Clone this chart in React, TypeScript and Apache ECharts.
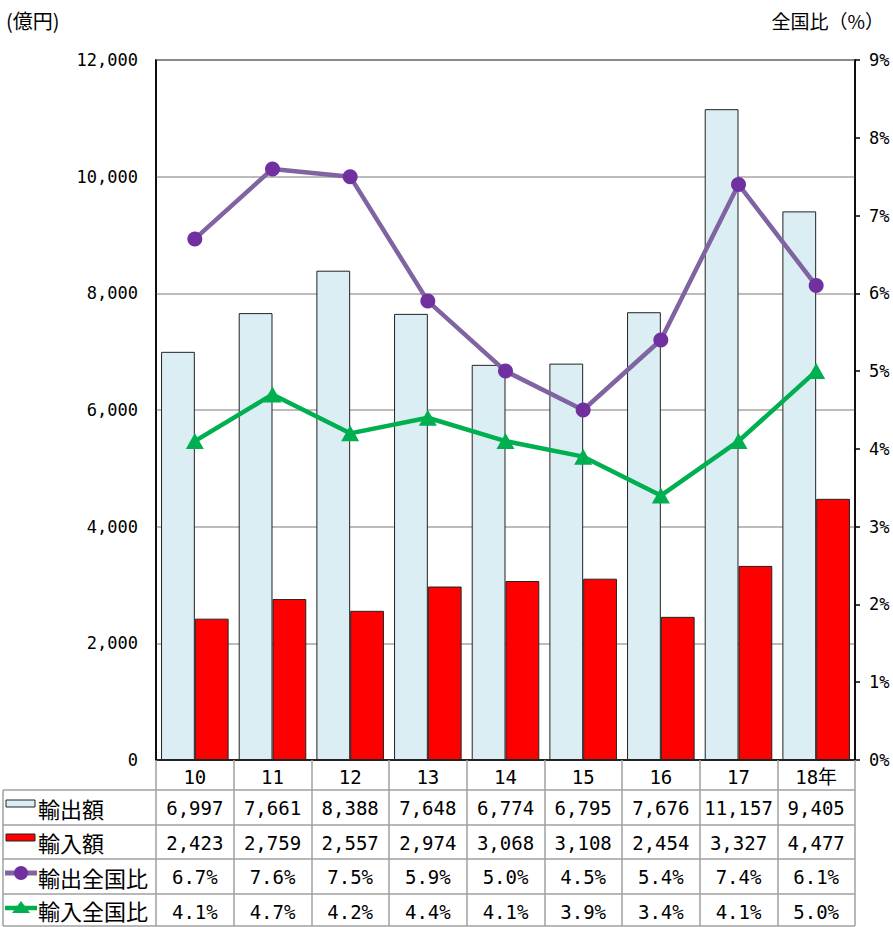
import React, { useEffect, useRef } from "react";
import * as echarts from "echarts";

const years = ["10", "11", "12", "13", "14", "15", "16", "17", "18年"];
const exportAmt = [6997, 7661, 8388, 7648, 6774, 6795, 7676, 11157, 9405];
const importAmt = [2423, 2759, 2557, 2974, 3068, 3108, 2454, 3327, 4477];
const exportShare = [6.7, 7.6, 7.5, 5.9, 5.0, 4.5, 5.4, 7.4, 6.1];
const importShare = [4.1, 4.7, 4.2, 4.4, 4.1, 3.9, 3.4, 4.1, 5.0];
const rowNames = ["輸出額", "輸入額", "輸出全国比", "輸入全国比"];
const leftAxis = { min: 0, max: 12000, interval: 2000 };
const rightAxis = { min: 0, max: 9, interval: 1 };

const NUM_FONT = "'DejaVu Sans Mono', 'Noto Sans CJK JP', monospace";
const JP_FONT = "'Noto Sans CJK JP', sans-serif";

const fmtNum = (v: number) => v.toLocaleString("en-US");
const fmtPct = (v: number) => v.toFixed(1) + "%";

export default function App() {
  const ref = useRef<HTMLDivElement>(null);
  useEffect(() => {
    if (!ref.current) return;
    const chart = echarts.init(ref.current, null, { renderer: "svg" });

    const rows = [
      exportAmt.map(fmtNum),
      importAmt.map(fmtNum),
      exportShare.map(fmtPct),
      importShare.map(fmtPct),
    ];
    const rowTops = [790, 825, 859, 894];
    const rowBottom = 926;
    const gridTop = 60;
    const gridBottom = 760;
    const gridLeft = 156;
    const gridRight = 855;
    const lineGrey = "#A0A0A0";

    const tableLines: any[] = [];
    [...rowTops, rowBottom].forEach((y) => {
      tableLines.push({
        type: "line",
        shape: { x1: 3, y1: y, x2: gridRight, y2: y },
        style: { stroke: lineGrey, lineWidth: 1.5 },
      });
    });
    tableLines.push({
      type: "line",
      shape: { x1: 3, y1: rowTops[0], x2: 3, y2: rowBottom },
      style: { stroke: lineGrey, lineWidth: 1.5 },
    });

    const headers = rowNames.map((name, i) => ({
      type: "text",
      x: 38,
      y: (rowTops[i] + (rowTops[i + 1] ?? rowBottom)) / 2,
      style: {
        text: name,
        fontSize: 22,
        fontFamily: JP_FONT,
        fill: "#000",
        verticalAlign: "middle",
        align: "left",
      },
    }));

    const swatches: any[] = [
      {
        type: "rect",
        shape: { x: 6, y: 800, width: 29, height: 7 },
        style: { fill: "#DAEEF3", stroke: "#222", lineWidth: 1 },
      },
      {
        type: "rect",
        shape: { x: 6, y: 834, width: 29, height: 7 },
        style: { fill: "#FF0000", stroke: "#222", lineWidth: 1 },
      },
      {
        type: "line",
        shape: { x1: 5, y1: 873, x2: 37, y2: 873 },
        style: { stroke: "#8064A2", lineWidth: 5 },
      },
      {
        type: "circle",
        shape: { cx: 21, cy: 873, r: 7 },
        style: { fill: "#7030A0" },
      },
      {
        type: "line",
        shape: { x1: 5, y1: 908, x2: 37, y2: 908 },
        style: { stroke: "#00B050", lineWidth: 4.5 },
      },
      {
        type: "polygon",
        shape: { points: [[21, 901], [12, 913], [30, 913]] },
        style: { fill: "#00B050" },
      },
    ];

    const titles = [
      {
        type: "text",
        x: 6,
        y: 20,
        style: {
          text: "(億円)",
          fontSize: 20,
          fontFamily: JP_FONT,
          fill: "#000",
          verticalAlign: "middle",
        },
      },
      {
        type: "text",
        x: 884,
        y: 20,
        style: {
          text: "全国比（%）",
          fontSize: 19,
          fontFamily: JP_FONT,
          fill: "#000",
          verticalAlign: "middle",
          align: "right",
        },
      },
    ];

    const offsets = rowTops.map((t) => t - gridBottom);

    chart.setOption({
      animation: false,
      grid: {
        left: gridLeft,
        right: 893 - gridRight,
        top: gridTop,
        bottom: 927 - gridBottom,
        show: true,
        borderColor: "#000",
        borderWidth: 1.5,
        backgroundColor: "transparent",
      },
      xAxis: [
        {
          type: "category",
          data: years,
          position: "bottom",
          axisLine: { show: true, lineStyle: { color: "#000", width: 1.5 } },
          axisTick: {
            show: true,
            interval: 0,
            length: rowBottom - gridBottom,
            lineStyle: { color: lineGrey, width: 1.5 },
          },
          axisLabel: {
            interval: 0,
            margin: 7,
            fontSize: 19,
            color: "#000",
            fontFamily: NUM_FONT,
          },
        },
        ...rows.map((r, i) => ({
          type: "category",
          data: r,
          position: "bottom",
          offset: offsets[i],
          axisLine: { show: false },
          axisTick: { show: false },
          axisLabel: {
            interval: 0,
            margin: 8,
            fontSize: 19,
            color: "#000",
            fontFamily: NUM_FONT,
          },
        })),
      ],
      yAxis: [
        {
          type: "value",
          min: leftAxis.min,
          max: leftAxis.max,
          interval: leftAxis.interval,
          axisLine: { show: true, lineStyle: { color: "#000", width: 1.5 } },
          axisTick: { show: false },
          axisLabel: {
            margin: 18,
            fontSize: 17,
            color: "#000",
            fontFamily: NUM_FONT,
            formatter: (v: number) => fmtNum(v),
          },
          splitLine: { show: true, lineStyle: { color: "#A6A6A6", width: 1.5 } },
        },
        {
          type: "value",
          min: rightAxis.min,
          max: rightAxis.max,
          interval: rightAxis.interval,
          position: "right",
          axisLine: { show: true, lineStyle: { color: "#000", width: 1.5 } },
          axisTick: { show: true, length: 5, lineStyle: { color: "#000", width: 1.5 } },
          axisLabel: {
            margin: 14,
            fontSize: 17,
            color: "#000",
            fontFamily: NUM_FONT,
            formatter: "{value}%",
          },
          splitLine: { show: false },
        },
      ],
      series: [
        {
          name: "輸出額",
          type: "bar",
          data: exportAmt,
          barGap: "0%",
          barCategoryGap: "13%",
          itemStyle: { color: "#DAEEF3", borderColor: "#222", borderWidth: 1 },
        },
        {
          name: "輸入額",
          type: "bar",
          data: importAmt,
          itemStyle: { color: "#FF0000", borderColor: "#222", borderWidth: 1 },
        },
        {
          name: "輸出全国比",
          type: "line",
          yAxisIndex: 1,
          data: exportShare,
          symbol: "circle",
          symbolSize: 15,
          lineStyle: { color: "#8064A2", width: 4.5 },
          itemStyle: { color: "#7030A0" },
          z: 5,
        },
        {
          name: "輸入全国比",
          type: "line",
          yAxisIndex: 1,
          data: importShare,
          symbol: "triangle",
          symbolSize: [18, 16],
          lineStyle: { color: "#00B050", width: 4.5 },
          itemStyle: { color: "#00B050" },
          z: 6,
        },
      ],
      graphic: [...tableLines, ...headers, ...swatches, ...titles],
    });

    return () => chart.dispose();
  }, []);

  return (
    <div
      ref={ref}
      style={{ position: "absolute", left: 0, top: 0, width: 893, height: 927 }}
    />
  );
}
